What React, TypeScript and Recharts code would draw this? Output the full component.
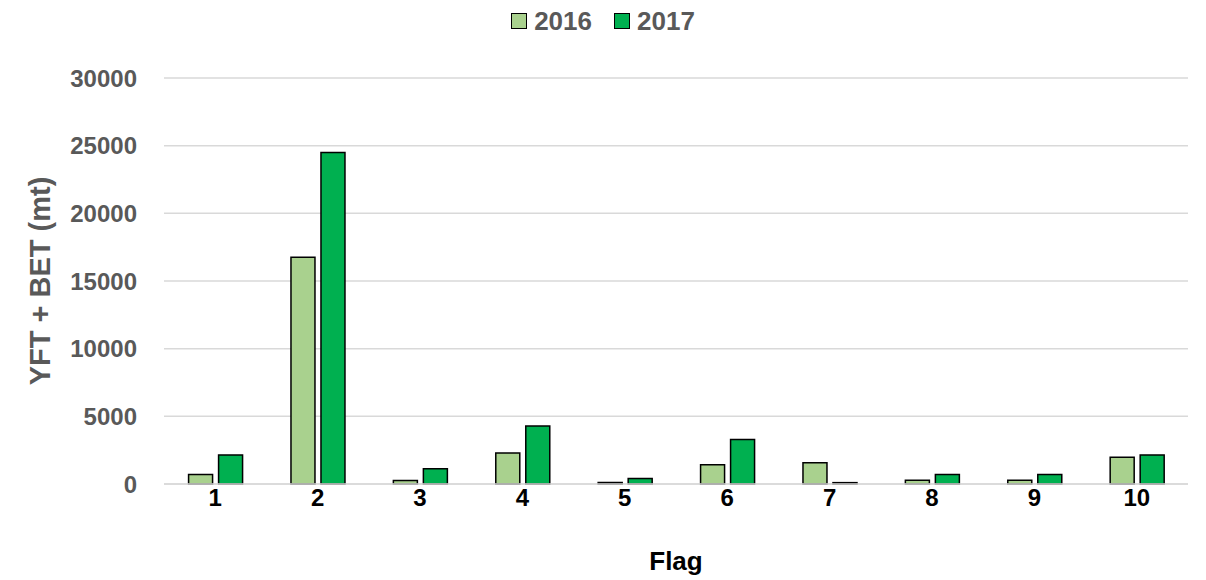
import { BarChart, Bar, XAxis, YAxis, CartesianGrid, Label } from 'recharts';

const flags = ['1', '2', '3', '4', '5', '6', '7', '8', '9', '10'];
const catch2016 = [700, 16760, 250, 2290, 120, 1430, 1575, 270, 270, 1970];
const catch2017 = [2150, 24500, 1130, 4290, 415, 3280, 100, 710, 710, 2150];
const yTicks = [0, 5000, 10000, 15000, 20000, 25000, 30000];

const series = [
  { key: 'y2016', label: '2016', color: '#A9D18E' },
  { key: 'y2017', label: '2017', color: '#00B050' },
];

const data = flags.map((f, i) => ({ flag: f, y2016: catch2016[i], y2017: catch2017[i] }));

const FONT = '"Liberation Sans", Arial, sans-serif';
const TEXT = '#595959';

function LegendView() {
  return (
    <div style={{ position: 'absolute', top: 6, left: 0, width: '100%', display: 'flex', justifyContent: 'center', gap: 22, fontFamily: FONT, fontWeight: 700, fontSize: 26, lineHeight: '30px', color: TEXT }}>
      {series.map(s => (
        <div key={s.key} style={{ display: 'flex', alignItems: 'center', gap: 7 }}>
          <span style={{ width: 14, height: 14, background: s.color, border: '1.5px solid #000', display: 'inline-block' }} />
          <span>{s.label}</span>
        </div>
      ))}
    </div>
  );
}

function YLabel(props: any) {
  const vb = props.viewBox;
  const cx = 40;
  const cy = vb.y + vb.height / 2;
  return (
    <text x={cx} y={cy} transform={`rotate(-90 ${cx} ${cy})`} textAnchor="middle" dominantBaseline="central"
      fill={TEXT} fontFamily={FONT} fontWeight={700} fontSize={29}>
      YFT + BET (mt)
    </text>
  );
}

export default function App() {
  return (
    <div style={{ position: 'relative', width: 1206, height: 580, background: '#fff' }}>
      <style>{'body{margin:0}'}</style>
      <LegendView />
      <BarChart width={1206} height={580} data={data} margin={{ top: 78, right: 18, left: 0, bottom: 66 }}
        barCategoryGap="24%" barGap={6}>
        <CartesianGrid vertical={false} stroke="#D9D9D9" strokeWidth={1.5} />
        <XAxis dataKey="flag" height={30} tickLine={false} axisLine={{ stroke: '#D9D9D9', strokeWidth: 1.5 }} tickSize={0} tickMargin={5}
          tick={{ fill: '#000', fontFamily: FONT, fontWeight: 700, fontSize: 24 }}>
          <Label value="Flag" position="insideBottom" offset={-56} fill="#000" fontFamily={FONT} fontWeight={700} fontSize={26} />
        </XAxis>
        <YAxis width={164} domain={[0, 30000]} ticks={yTicks} interval={0} tickLine={false} axisLine={false} tickSize={0} tickMargin={27}
          tick={{ fill: TEXT, fontFamily: FONT, fontWeight: 700, fontSize: 24 }}>
          <Label content={<YLabel />} />
        </YAxis>
        {series.map(s => (
          <Bar key={s.key} dataKey={s.key} name={s.label} fill={s.color} stroke="#000" strokeWidth={1.5} isAnimationActive={false} />
        ))}
      </BarChart>
    </div>
  );
}
